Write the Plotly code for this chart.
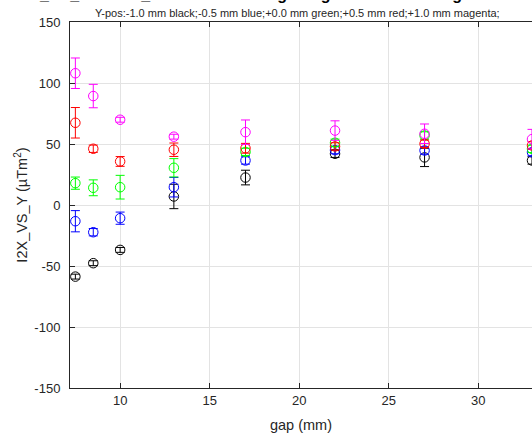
import plotly.graph_objects as go

gap = [7.5, 8.5, 10, 13, 17, 22, 27, 33]

black_y = [-58.7, -47.7, -36.8, 7.0, 22.5, 42.0, 39.0, 36.5]
black_e = [2, 2, 2, 10, 6, 3, 7.5, 3]
blue_y = [-13.3, -22.3, -10.8, 14.6, 36.5, 45.0, 44.7, 43.3]
blue_e = [8.7, 3, 5, 8, 3, 3, 3, 3]
green_y = [17.9, 14.1, 14.6, 30.5, 43.5, 51.0, 57.0, 46.0]
green_e = [5, 6.5, 9.7, 7.5, 3, 3, 3, 3]
red_y = [67.4, 46.1, 35.7, 45.3, 46.5, 48.0, 50.2, 48.8]
red_e = [12.5, 3, 4, 5.5, 4, 3, 3, 3]
magenta_y = [108.0, 89.3, 69.9, 56.0, 59.7, 61.0, 58.4, 54.0]
magenta_e = [12.5, 9.6, 2, 2, 10, 8, 8, 8]

x_ticks = [10, 15, 20, 25, 30]
y_ticks = [-150, -100, -50, 0, 50, 100, 150]

series = [
    ("-1.0 mm", black_y, black_e, "#000000"),
    ("-0.5 mm", blue_y, blue_e, "#0000FF"),
    ("+0.0 mm", green_y, green_e, "#00FF00"),
    ("+0.5 mm", red_y, red_e, "#FF0000"),
    ("+1.0 mm", magenta_y, magenta_e, "#FF00FF"),
]

FONT = "Liberation Sans, Arial, Helvetica, sans-serif"
AX = "#262626"

fig = go.Figure()
for name, ys, es, col in series:
    fig.add_trace(go.Scatter(
        x=gap, y=ys, name=name, mode="markers",
        marker=dict(symbol="circle-open", size=9.5, color=col, line=dict(width=1, color=col)),
        error_y=dict(type="data", array=es, visible=True, color=col, thickness=1, width=4.5),
        cliponaxis=False, showlegend=False, hoverinfo="skip",
    ))

fig.update_layout(
    width=532, height=438,
    margin=dict(l=70, r=0, t=22, b=50, pad=0),
    paper_bgcolor="white", plot_bgcolor="white",
    font=dict(family=FONT, color=AX, size=13),
    xaxis=dict(
        range=[7.2, 33.0], tickvals=x_ticks, ticktext=[str(v) for v in x_ticks],
        showgrid=True, gridcolor="#e3e3e3", gridwidth=1,
        showline=True, linecolor=AX, linewidth=1, mirror="ticks",
        ticks="inside", ticklen=5, tickcolor=AX, zeroline=False, automargin=False,
        tickfont=dict(size=13, color=AX),
        title=dict(text="gap (mm)", font=dict(size=14.5, color=AX), standoff=13),
    ),
    yaxis=dict(
        range=[-150, 150], tickvals=y_ticks, ticktext=[str(v) for v in y_ticks],
        showgrid=True, gridcolor="#e3e3e3", gridwidth=1,
        showline=True, linecolor=AX, linewidth=1, mirror=False,
        ticks="inside", ticklen=5, tickcolor=AX, zeroline=False, automargin=False,
        tickfont=dict(size=13, color=AX), ticklabelstandoff=6,
        title=dict(text="I2X_VS_Y (µTm<sup>2</sup>)", font=dict(size=14.5, color=AX), standoff=3),
    ),
    annotations=[
        dict(text="<b>I2X_VS_Y vs. K2_CMS-007 at 20deg Long Coil Scout at region B/W A and B</b>",
             xref="paper", yref="paper", x=(300 - 70) / 462, y=(388 - 5) / 366, xanchor="center", yanchor="bottom",
             showarrow=False, font=dict(size=16, color="#000000", family=FONT)),
        dict(text="Y-pos:-1.0 mm black;-0.5 mm blue;+0.0 mm green;+0.5 mm red;+1.0 mm magenta;",
             xref="paper", yref="paper", x=(297 - 70) / 462, y=(388 - 13) / 366, xanchor="center", yanchor="middle",
             showarrow=False, font=dict(size=11, color=AX, family=FONT)),
    ],
)

fig.write_html("out.html", config={"displayModeBar": False},
               post_script="document.body.style.margin='0';document.body.style.overflow='hidden';")
